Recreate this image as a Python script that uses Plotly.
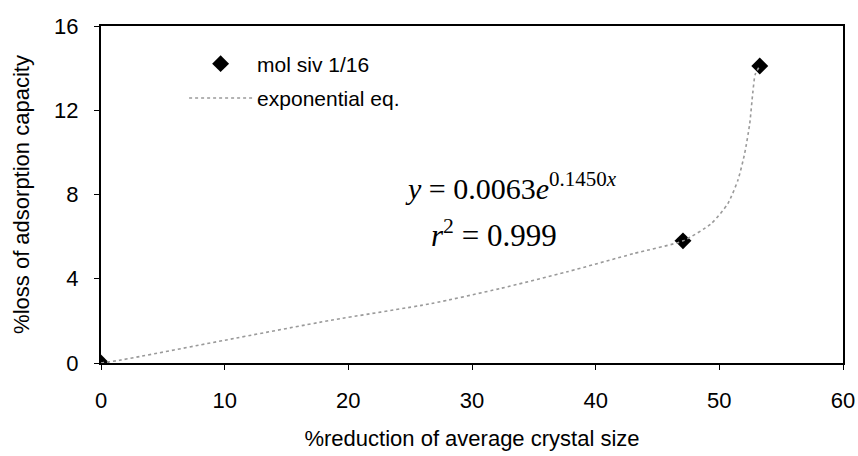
import plotly.graph_objects as go

# measured points (mol siv 1/16)
pts_x = [0, 47.06, 53.27]
pts_y = [0, 5.8, 14.1]

# fitted curve
fit_x = [0, 1.5, 10.0, 18.6, 26.7, 32.3, 37.7, 43.1, 47.06, 49.35, 50.7, 51.5, 52.05, 52.46, 52.7, 52.9, 53.27]
fit_y = [0, 0.13, 1.08, 2.03, 2.82, 3.54, 4.33, 5.2, 5.8, 6.62, 7.58, 8.68, 9.95, 11.38, 12.8, 13.7, 14.1]

x_ticks = [0, 10, 20, 30, 40, 50, 60]
y_ticks = [0, 4, 8, 12, 16]

FONT = "Liberation Sans, Arial, sans-serif"
SERIF = "Liberation Serif, Times New Roman, serif"

fig = go.Figure()
fig.add_trace(go.Scatter(
    x=pts_x, y=pts_y, mode="markers", name="mol siv 1/16",
    marker=dict(symbol="diamond", size=13, color="black", line=dict(width=0)),
    legendgroup="a", cliponaxis=True,
))
fig.add_trace(go.Scatter(
    x=fit_x, y=fit_y, mode="lines", name="exponential eq.",
    line=dict(color="#9a9a9a", width=1.6, dash="dot", shape="spline", smoothing=0.6),
    legendgroup="b",
))

fig.add_annotation(
    x=0.553, y=0.525, xref="paper", yref="paper", xanchor="center", yanchor="middle",
    text="<i>y</i> = 0.0063<i>e</i><sup>0.1450<i>x</i></sup>", showarrow=False,
    font=dict(family=SERIF, size=30, color="black"),
)
fig.add_annotation(
    x=0.529, y=0.385, xref="paper", yref="paper", xanchor="center", yanchor="middle",
    text="<i>r</i><sup>2</sup> = 0.999", showarrow=False,
    font=dict(family=SERIF, size=31, color="black"),
)

fig.update_layout(
    width=858, height=456,
    margin=dict(l=101, r=15, t=26, b=93),
    paper_bgcolor="white", plot_bgcolor="white",
    font=dict(family=FONT, size=22, color="black"),
    showlegend=True,
    legend=dict(x=0.112, y=0.948, xanchor="left", yanchor="top",
                bgcolor="rgba(0,0,0,0)", font=dict(size=21), tracegroupgap=4,
                itemwidth=63),
)
fig.update_xaxes(
    range=[0, 60], tickvals=x_ticks, ticktext=[str(v) for v in x_ticks],
    showgrid=False, zeroline=False, showline=True, linecolor="black", linewidth=2,
    mirror=True, ticks="outside", ticklen=5, tickcolor="black",
    ticklabelstandoff=12, automargin=False,
    title=dict(text="%reduction of average crystal size", standoff=18, font=dict(size=22)),
    layer="above traces",
)
fig.update_yaxes(
    range=[0, 16], tickvals=y_ticks, ticktext=[str(v) for v in y_ticks],
    showgrid=False, zeroline=False, showline=True, linecolor="black", linewidth=2,
    mirror=True, ticks="outside", ticklen=5, tickcolor="black",
    ticklabelstandoff=11, automargin=False,
    title=dict(text="%loss of adsorption capacity", standoff=18, font=dict(size=22)),
    layer="above traces",
)

fig.write_html("out.html")
